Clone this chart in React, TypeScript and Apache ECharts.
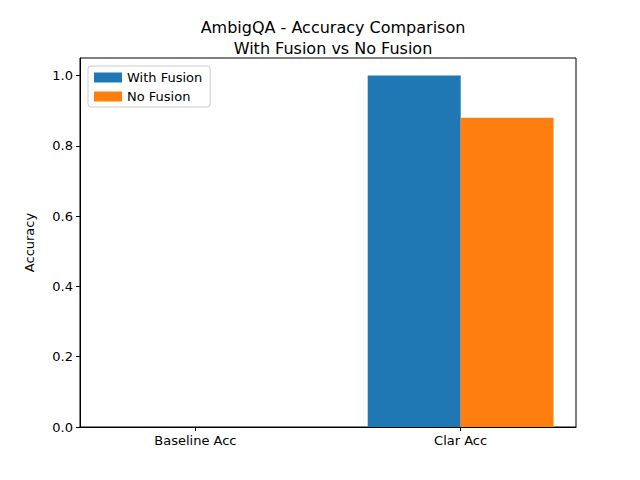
import { useEffect, useRef } from 'react'
import * as echarts from 'echarts'

const categories = ['Baseline Acc', 'Clar Acc']
const positions = [0, 1]
const withFusion = [0, 1.0]
const noFusion = [0, 0.88]
const yTicks = [0, 0.2, 0.4, 0.6, 0.8, 1.0]

export default function App() {
    const chartRef = useRef<HTMLDivElement>(null)

    useEffect(() => {
        if (!chartRef.current) return
        const chart = echarts.init(chartRef.current, null, { renderer: 'svg' })
        const font = 'DejaVu Sans'
        chart.setOption({
            animation: false,
            textStyle: { fontFamily: font },
            title: {
                text: 'AmbigQA - Accuracy Comparison\nWith Fusion vs No Fusion',
                left: 328, top: 12, textAlign: 'center',
                textStyle: { fontSize: 16, fontWeight: 'normal', color: '#000', lineHeight: 21, fontFamily: font }
            },
            legend: {
                left: 88, top: 66, orient: 'vertical',
                itemWidth: 28, itemHeight: 10, itemGap: 6,
                padding: [5, 8, 4, 6],
                borderColor: '#ccc', borderWidth: 1, borderRadius: 3,
                backgroundColor: '#fff',
                textStyle: { fontSize: 13, color: '#000', fontFamily: font },
                data: [{ name: 'With Fusion', icon: 'rect' }, { name: 'No Fusion', icon: 'rect' }]
            },
            grid: { left: 80, right: 64, top: 58, bottom: 53, show: true, borderColor: '#000', borderWidth: 1 },
            xAxis: {
                type: 'value', min: -0.435, max: 1.435,
                splitLine: { show: false },
                axisLine: { show: true, onZero: false, lineStyle: { color: '#000' } },
                axisTick: { show: true, inside: false, length: 4, customValues: positions, lineStyle: { color: '#000' } },
                axisLabel: {
                    customValues: positions, fontSize: 13, color: '#000', margin: 7,
                    formatter: (v: number) => categories[Math.round(v)] ?? ''
                }
            },
            yAxis: {
                type: 'value', min: 0, max: 1.05,
                name: 'Accuracy', nameLocation: 'middle', nameGap: 44, nameRotate: 90,
                nameTextStyle: { fontSize: 13, color: '#000' },
                splitLine: { show: false },
                axisLine: { show: true, onZero: false, lineStyle: { color: '#000' } },
                axisTick: { show: true, length: 4, customValues: yTicks, lineStyle: { color: '#000' } },
                axisLabel: {
                    customValues: yTicks, fontSize: 13, color: '#000', margin: 7,
                    formatter: (v: number) => v.toFixed(1)
                }
            },
            series: [
                {
                    name: 'With Fusion', type: 'bar', barWidth: 93, barGap: '-100%',
                    itemStyle: { color: '#1f77b4' },
                    data: positions.map((p, i) => [p - 0.175, withFusion[i]])
                },
                {
                    name: 'No Fusion', type: 'bar', barWidth: 93, barGap: '-100%',
                    itemStyle: { color: '#ff7f0e' },
                    data: positions.map((p, i) => [p + 0.175, noFusion[i]])
                }
            ]
        })
        return () => chart.dispose()
    }, [])

    return <div ref={chartRef} style={{ width: 640, height: 480, margin: -8 }} />
}
